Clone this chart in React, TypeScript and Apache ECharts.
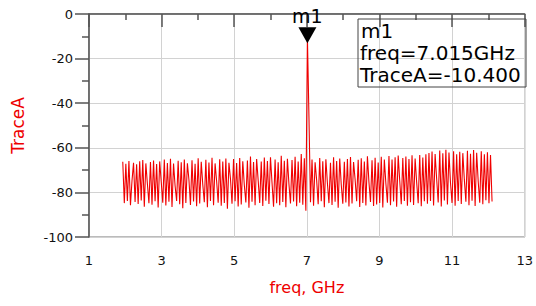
import React, { useEffect, useRef } from "react";
import * as echarts from "echarts";

// Sweep definition (GHz)
const FREQ_START = 1.93;
const FREQ_STEP = 0.042375;

// TraceA values (dB), one per sweep point
const TRACE_A = [
  -66.3, -84.8, -67.2, -83.9, -65.9, -85.7, -74.8, -66.7, -84.3, -67.4,
  -85.2, -66.0, -83.6, -65.5, -86.4, -67.0, -76.1, -84.9, -66.4, -85.5,
  -65.7, -84.0, -67.3, -86.8, -66.1, -75.2, -84.6, -65.3, -85.9, -66.8,
  -84.2, -64.9, -86.5, -67.1, -77.0, -83.8, -65.8, -85.3, -66.5, -87.1,
  -65.2, -84.7, -66.9, -74.3, -85.6, -65.6, -84.1, -67.2, -86.2, -64.7,
  -85.0, -66.3, -76.5, -84.4, -65.4, -86.7, -66.6, -83.9, -64.5, -85.8,
  -67.0, -75.0, -84.6, -65.1, -86.0, -66.2, -84.8, -64.8, -87.3, -66.7,
  -73.9, -85.1, -65.0, -84.0, -66.8, -86.3, -64.6, -85.4, -66.0, -76.8,
  -84.5, -65.7, -86.9, -63.9, -84.2, -66.4, -85.7, -65.0, -74.6, -84.7,
  -66.1, -86.1, -64.4, -83.7, -65.9, -85.2, -64.2, -75.7, -86.4, -65.3,
  -84.9, -66.5, -85.8, -63.6, -84.3, -65.8, -86.6, -64.9, -76.3, -85.0,
  -65.5, -84.1, -64.0, -86.2, -66.2, -84.6, -62.8, -85.5, -64.7, -88.2,
  -10.4, -46.0, -84.4, -65.2, -86.0, -66.5, -74.5, -85.3, -64.6, -84.0,
  -66.0, -86.7, -65.1, -75.9, -84.8, -66.7, -85.6, -64.3, -84.2, -65.9,
  -86.9, -64.8, -76.6, -85.1, -66.3, -84.5, -65.0, -86.3, -64.1, -85.0,
  -66.4, -74.2, -84.0, -65.4, -86.5, -64.7, -84.7, -66.1, -85.9, -63.8,
  -75.5, -84.3, -65.6, -86.1, -64.5, -85.4, -66.6, -84.8, -64.0, -86.8,
  -65.3, -76.0, -84.6, -63.7, -85.7, -65.2, -84.1, -64.2, -86.4, -63.5,
  -74.8, -85.3, -64.6, -83.9, -63.9, -86.0, -65.0, -84.4, -63.4, -85.6,
  -64.8, -75.4, -84.9, -63.2, -86.2, -64.4, -84.0, -62.9, -85.1, -62.3,
  -83.8, -61.7, -85.9, -62.8, -74.0, -84.5, -61.2, -86.3, -62.5, -83.6,
  -60.9, -85.4, -62.1, -75.8, -84.7, -61.5, -86.0, -62.9, -83.9, -61.8,
  -85.2, -62.4, -74.4, -84.2, -61.3, -85.8, -62.7, -83.7, -61.0, -86.1,
  -62.2, -75.1, -84.6, -61.6, -85.3, -62.9, -83.5, -62.0, -84.9, -63.2,
  -84.1,
];

const MARKER_NAME = "m1";
const MARKER_FREQ = 7.015;
const MARKER_VALUE = -10.4;

const X_MIN = 1;
const X_MAX = 13;
const X_INTERVAL = 2;
const Y_MIN = -100;
const Y_MAX = 0;
const Y_INTERVAL = 20;

const AXIS_COLOR = "#555555";
const FONT = "DejaVu Sans";

export default function App() {
  const ref = useRef<HTMLDivElement>(null);

  useEffect(() => {
    if (!ref.current) return;
    const chart = echarts.init(ref.current, null, { renderer: "svg" });
    const data = TRACE_A.map((v, i) => [FREQ_START + i * FREQ_STEP, v]);

    chart.setOption({
      animation: false,
      backgroundColor: "#ffffff",
      grid: {
        left: 89,
        right: 9,
        top: 14,
        bottom: 69,
        show: true,
        borderColor: "#777777",
        borderWidth: 1,
        backgroundColor: "transparent",
      },
      xAxis: {
        type: "value",
        min: X_MIN,
        max: X_MAX,
        interval: X_INTERVAL,
        name: "freq, GHz",
        nameLocation: "middle",
        nameGap: 42,
        nameTextStyle: { color: "#ee0000", fontSize: 16, fontFamily: FONT },
        axisLine: { show: true, lineStyle: { color: AXIS_COLOR, width: 1.5 } },
        axisTick: { show: true, length: 13, lineStyle: { color: AXIS_COLOR, width: 1.5 } },
        minorTick: { show: true, splitNumber: 2, length: 6, lineStyle: { color: AXIS_COLOR, width: 1.5 } },
        axisLabel: { color: "#111111", fontSize: 13, fontFamily: FONT, margin: 17 },
        splitLine: { show: true, lineStyle: { color: "#d2d2d2", width: 1 } },
        minorSplitLine: { show: false },
      },
      yAxis: {
        type: "value",
        min: Y_MIN,
        max: Y_MAX,
        interval: Y_INTERVAL,
        name: "TraceA",
        nameLocation: "middle",
        nameGap: 63,
        nameTextStyle: { color: "#ee0000", fontSize: 17, fontFamily: FONT },
        axisLine: { show: true, lineStyle: { color: AXIS_COLOR, width: 1.5 } },
        axisTick: { show: true, length: 14, lineStyle: { color: AXIS_COLOR, width: 1.5 } },
        minorTick: { show: true, splitNumber: 2, length: 7, lineStyle: { color: AXIS_COLOR, width: 1.5 } },
        axisLabel: { color: "#111111", fontSize: 13, fontFamily: FONT, margin: 16 },
        splitLine: { show: true, lineStyle: { color: "#d2d2d2", width: 1 } },
      },
      series: [
        {
          type: "line",
          data,
          showSymbol: false,
          symbol: "none",
          lineStyle: { color: "#f00000", width: 1.1 },
          markPoint: {
            symbol: "triangle",
            symbolRotate: 180,
            symbolSize: [18, 16],
            symbolOffset: [0, -2],
            itemStyle: { color: "#000000" },
            label: {
              show: true,
              position: "top",
              distance: 2,
              formatter: MARKER_NAME,
              color: "#000000",
              fontSize: 19,
              fontFamily: FONT,
            },
            data: [{ coord: [MARKER_FREQ, MARKER_VALUE] }],
          },
        },
      ],
      graphic: [
        {
          type: "group",
          children: [
            {
              type: "rect",
              shape: { x: 358, y: 19, width: 168, height: 68 },
              style: { fill: "none", stroke: "#444444", lineWidth: 1 },
              z: 100,
            },
            {
              type: "text",
              x: 361,
              y: 31,
              style: { text: MARKER_NAME, fill: "#000", fontSize: 20, fontFamily: FONT, verticalAlign: "middle" },
              z: 100,
            },
            {
              type: "text",
              x: 360,
              y: 53,
              style: { text: `freq=${MARKER_FREQ.toFixed(3)}GHz`, fill: "#000", fontSize: 20, fontFamily: FONT, verticalAlign: "middle" },
              z: 100,
            },
            {
              type: "text",
              x: 360,
              y: 75,
              style: { text: `TraceA=${MARKER_VALUE.toFixed(3)}`, fill: "#000", fontSize: 20, fontFamily: FONT, verticalAlign: "middle" },
              z: 100,
            },
          ],
        },
      ],
    });

    return () => chart.dispose();
  }, []);

  return (
    <div
      ref={ref}
      style={{ position: "fixed", left: 0, top: 0, width: 536, height: 306, background: "#fff" }}
    />
  );
}
